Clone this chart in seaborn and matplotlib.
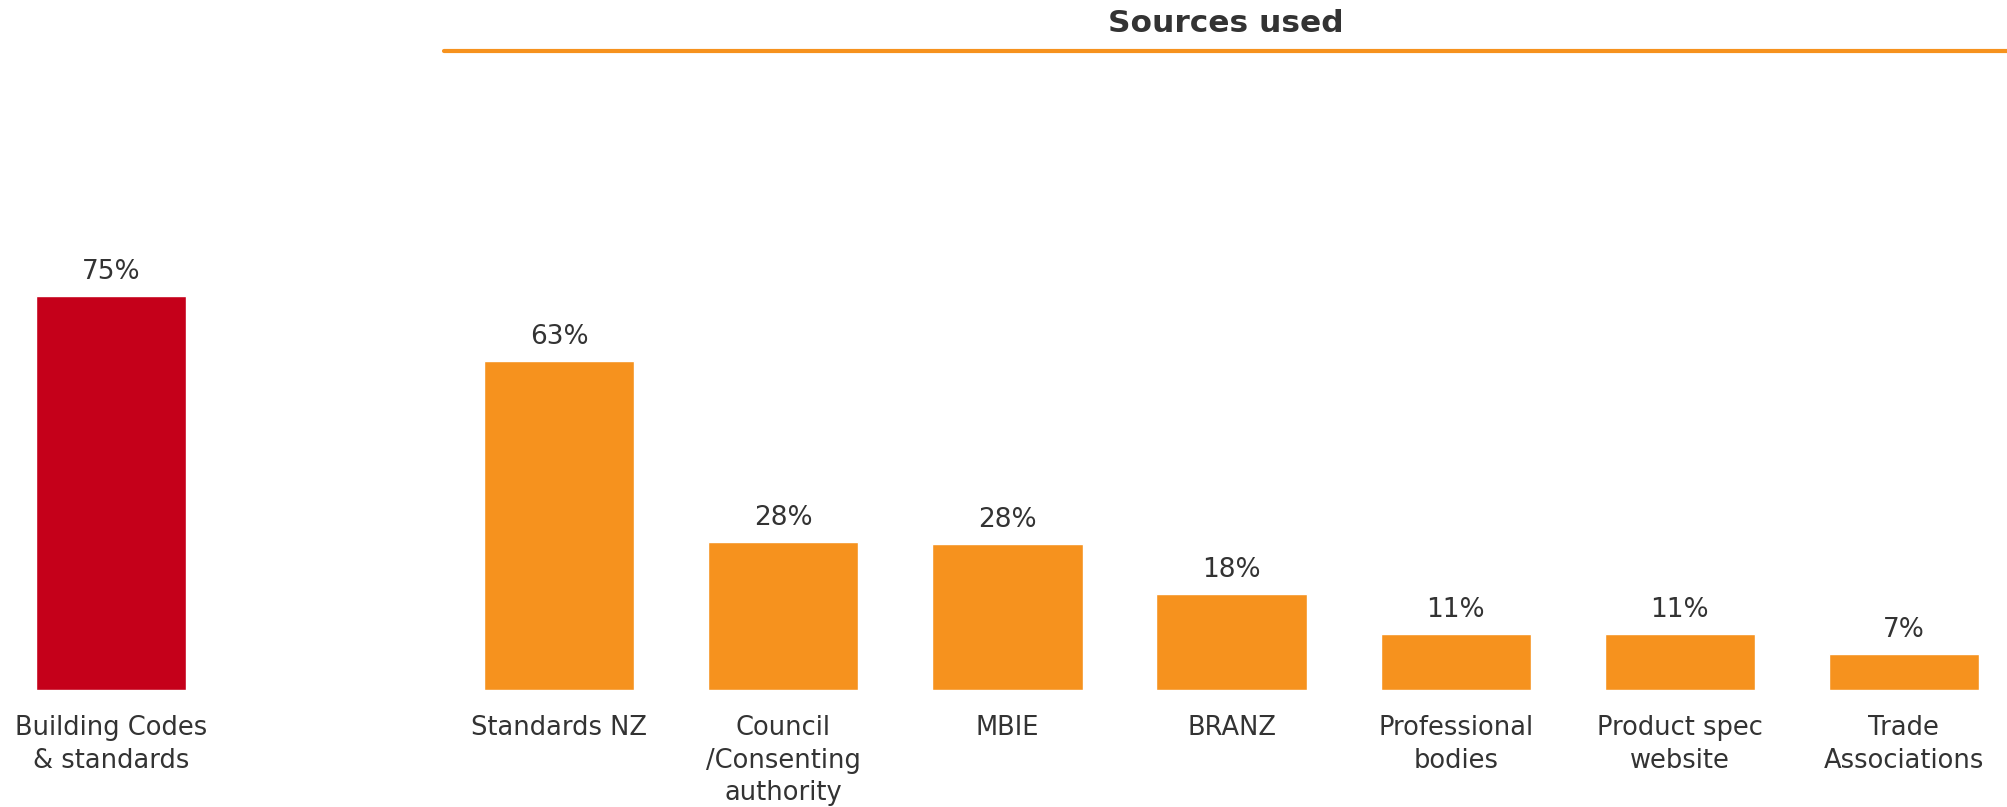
import pandas as pd
import seaborn as sns
import matplotlib.pyplot as plt
from matplotlib.lines import Line2D

# Chart data
sources = ["Building Codes\n& standards", "Standards NZ", "Council\n/Consenting\nauthority",
           "MBIE", "BRANZ", "Professional\nbodies", "Product spec\nwebsite", "Trade\nAssociations"]
share = [75.0, 62.6, 28.2, 27.8, 18.2, 10.6, 10.6, 6.8]
title = "Sources used"

RED = "#C5001A"
ORANGE = "#F6921E"
TEXT = "#333333"

df = pd.DataFrame({"source": sources, "share": share})
# empty slot between the first bar and the rest
order = [sources[0], " "] + sources[1:]
palette = {s: (RED if i == 0 else ORANGE) for i, s in enumerate(sources)}

sns.set_style("white")
plt.rcParams["font.family"] = ["DejaVu Sans"]

fig = plt.figure(figsize=(20.07, 8.07), dpi=100)
ax = fig.add_axes([0, 0.145, 1, 0.78])

sns.barplot(data=df, x="source", y="share", hue="source", order=order, palette=palette,
            width=0.67, saturation=1, legend=False, ax=ax)

for cont in ax.containers:
    ax.bar_label(cont, labels=[f"{v:.0f}%" for v in cont.datavalues],
                 padding=8, fontsize=19, color=TEXT)

ax.set_xlim(-0.495, 8.46)
ax.set_ylim(0, 119.9)
ax.set_xlabel("")
ax.set_ylabel("")
ax.set_yticks([])
ax.set_xticks(range(len(order)))
ax.set_xticklabels(order, fontsize=18.5, color=TEXT, linespacing=1.33)
ax.tick_params(axis="x", length=0, pad=18)
sns.despine(ax=ax, left=True, bottom=True)

# title and rule over the right-hand group
fig.text(0.611, 0.971, title, ha="center", va="center", fontsize=22.5,
         fontweight="bold", color=TEXT)
fig.add_artist(Line2D([444 / 2007, 1], [0.937, 0.937], color=ORANGE, linewidth=3,
                      transform=fig.transFigure))

fig.savefig("out.png", dpi=100)
